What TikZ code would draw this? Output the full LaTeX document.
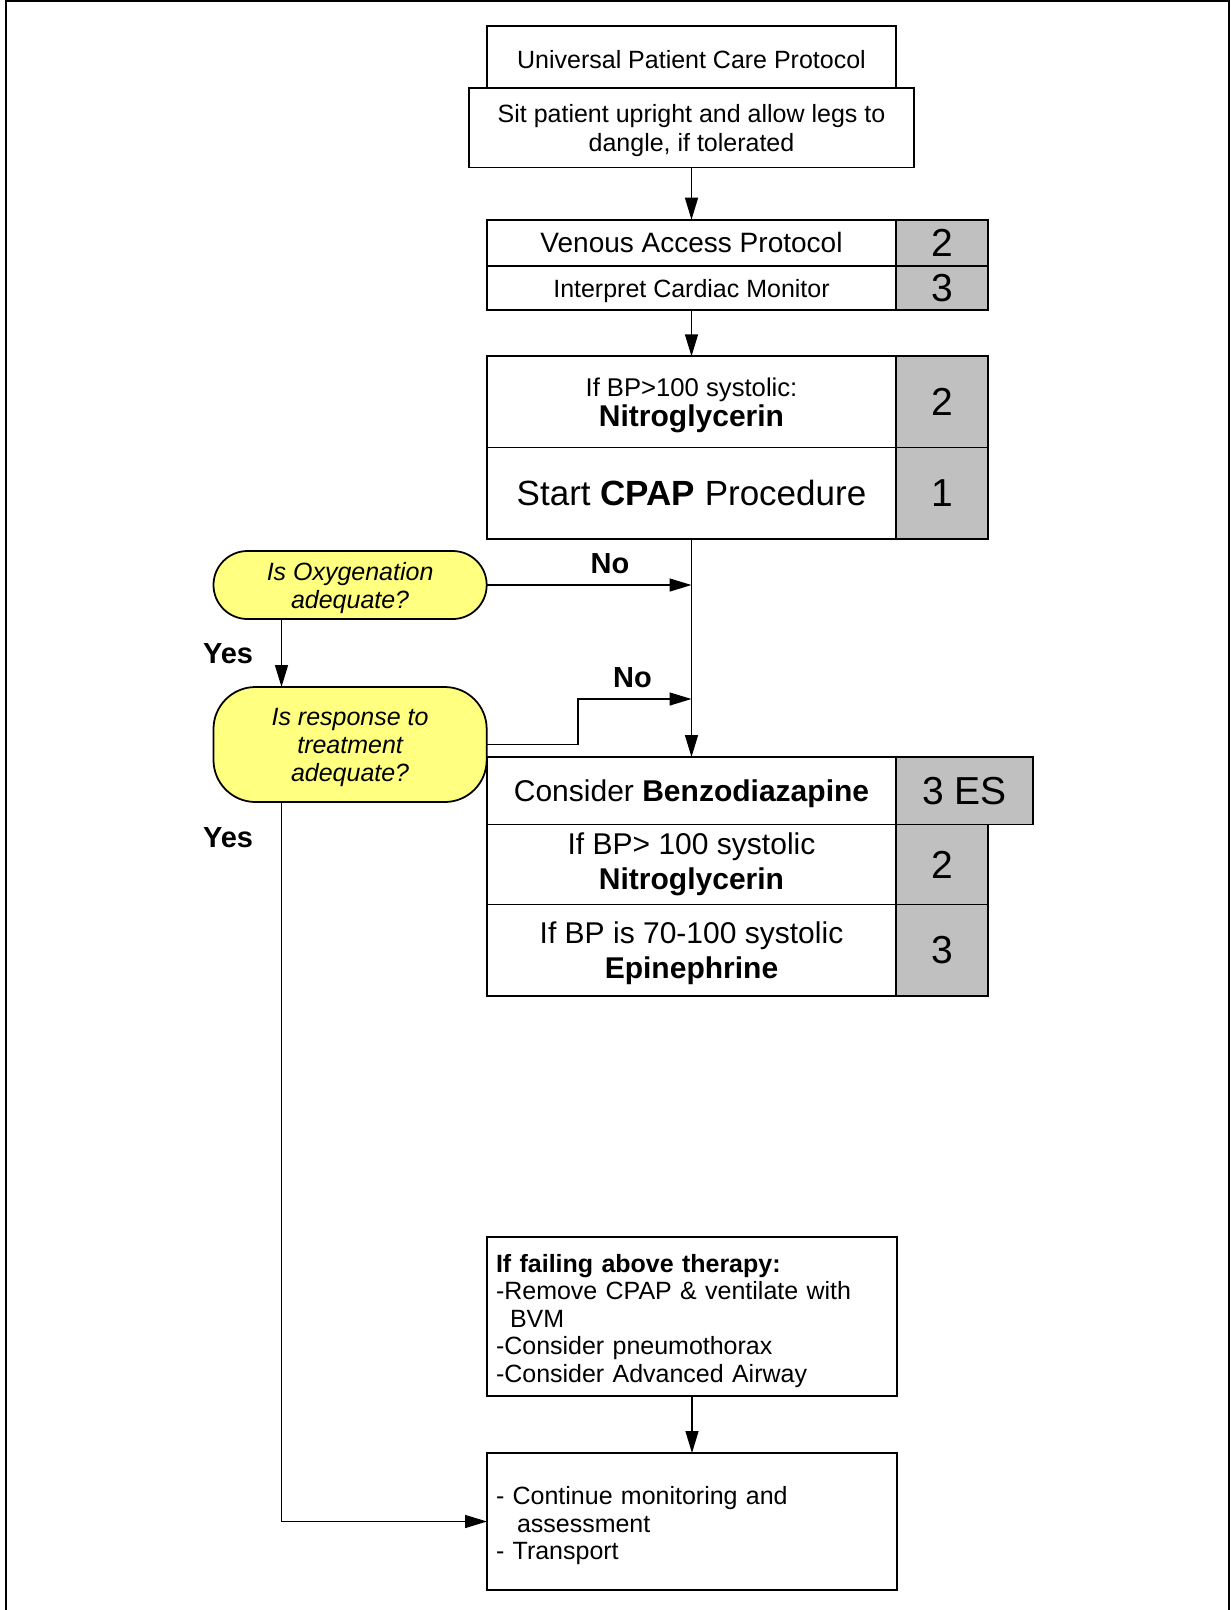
\documentclass[tikz,border=0pt]{standalone}
\usepackage{fontspec}
\setmainfont{Liberation Sans}
\usetikzlibrary{arrows.meta, positioning, calc}

\definecolor{cellgrey}{RGB}{192,192,192}
\definecolor{askyellow}{RGB}{255,255,128}

\begin{document}
\begin{tikzpicture}[>={Triangle[length=2.2mm,width=1.3mm]}, line width=0.5pt,
    every node/.style={inner sep=0pt, outer sep=0pt},
    stepbox/.style={draw, fill=white, align=center, text depth=0pt, minimum width=4.096cm},
    dosebox/.style={draw, fill=cellgrey, minimum width=0.914cm, font=\fontsize{11.1}{12}\selectfont},
    ask/.style={draw, fill=askyellow, align=center, text depth=0pt, minimum width=2.732cm, font=\fontsize{7.11}{7.97}\selectfont\itshape},
    notebox/.style={draw, align=left, text width=3.92cm, inner xsep=0.09cm},
    answer/.style={font=\fontsize{8.25}{9}\selectfont\bfseries},
    flow/.style={->, line width=0.4pt}]

        \useasboundingbox (0,0) rectangle (12.31,-16.10);

        % ==========================================
        % Page frame
        % ==========================================
        \draw[line width=0.7pt] (0.06,-16.10) -- (0.06,-0.0125) -- (12.29,-0.0125) -- (12.29,-16.10);

        % ==========================================
        % TOP: opening steps
        % ==========================================
        \node[stepbox, minimum height=0.676cm, font=\fontsize{7.11}{8.1}\selectfont] (upcp) at (6.915,-0.595) {Universal Patient Care Protocol};
        \node[stepbox, minimum width=4.446cm, minimum height=0.791cm, font=\fontsize{7.11}{8.1}\selectfont] (sit) at (6.915,-1.2785) {Sit patient upright and allow legs to\\dangle, if tolerated};

        % Access and monitor
        \node[stepbox, minimum height=0.462cm, font=\fontsize{7.97}{9}\selectfont] (venous) at (6.915,-2.428) {Venous Access Protocol};
        \node[dosebox, minimum height=0.462cm] (venouslvl) at (9.42,-2.428) {2};
        \node[stepbox, minimum height=0.441cm, font=\fontsize{7.11}{8.1}\selectfont] (interp) at (6.915,-2.8795) {Interpret Cardiac Monitor};
        \node[dosebox, minimum height=0.441cm] (interplvl) at (9.42,-2.8795) {3};

        % Nitro and CPAP
        \node[stepbox, minimum height=0.913cm, font=\fontsize{8.54}{8.6}\selectfont] (bpa) at (6.915,-4.0195) {{\fontsize{7.3}{8.6}\selectfont If BP>100 systolic:}\\\textbf{Nitroglycerin}};
        \node[dosebox, minimum height=0.913cm] (bpalvl) at (9.42,-4.0195) {2};
        \node[stepbox, minimum height=0.914cm, font=\fontsize{9.96}{11}\selectfont] (cpap) at (6.915,-4.933) {Start \textbf{CPAP} Procedure};
        \node[dosebox, minimum height=0.914cm] (cpaplvl) at (9.42,-4.933) {1};

        % ==========================================
        % MIDDLE: questions
        % ==========================================
        \node[ask, minimum height=0.68cm, rounded corners=0.34cm] (oxy) at (3.501,-5.85) {Is Oxygenation\\adequate?};
        \node[ask, minimum height=1.15cm, rounded corners=0.42cm] (resp) at (3.501,-7.445) {Is response to\\treatment\\adequate?};

        % Answers
        \node[answer] (no1) at (6.10,-5.637) {No};
        \node[answer] (no2) at (6.324,-6.776) {No};
        \node[answer] (yes1) at (2.28,-6.54) {Yes};
        \node[answer] (yes2) at (2.28,-8.378) {Yes};

        % Further treatment
        \node[stepbox, minimum height=0.675cm, font=\fontsize{8.54}{9.96}\selectfont] (benzo) at (6.915,-7.9075) {Consider \textbf{Benzodiazapine}};
        \node[dosebox, minimum width=1.367cm, minimum height=0.675cm] (benzolvl) at (9.646,-7.9075) {3 ES};
        \node[stepbox, text depth=1.8pt, minimum height=0.80cm, font=\fontsize{8.54}{9.96}\selectfont] (bpb) at (6.915,-8.645) {If BP> 100 systolic\\\textbf{Nitroglycerin}};
        \node[dosebox, minimum height=0.80cm] (bpblvl) at (9.42,-8.645) {2};
        \node[stepbox, minimum height=0.915cm, font=\fontsize{8.54}{9.96}\selectfont] (epi) at (6.915,-9.5025) {If BP is 70-100 systolic\\\textbf{Epinephrine}};
        \node[dosebox, minimum height=0.915cm] (epilvl) at (9.42,-9.5025) {3};

        % ==========================================
        % BOTTOM: fallback and transport
        % ==========================================
        \node[notebox, minimum height=1.59cm, font=\fontsize{7.11}{7.8}\selectfont] (fail) at (6.92,-13.165) {\rule{0pt}{7.6pt}\textbf{If failing above therapy:}\\-Remove CPAP \& ventilate with\\\hspace*{1.4mm}BVM\\-Consider pneumothorax\\-Consider Advanced Airway};
        \node[notebox, minimum height=1.37cm, font=\fontsize{7.11}{7.88}\selectfont] (cont) at (6.92,-15.215) {\rule{0pt}{7.5pt}- Continue monitoring and\\\hspace*{2.1mm}assessment\\- Transport};

        % Connectors
        \coordinate (jog) at (5.78,-6.99);
        \coordinate (yesx) at (2.815,0);
        \draw[flow] (sit) -- (venous);
        \draw[flow] (interp) -- (bpa);
        \draw[flow] (cpap) -- (benzo);
        \draw[flow] (oxy) -- (oxy -| cpap);
        \draw[flow] (resp.east) -| (jog) -- (jog -| cpap);
        \draw[flow] (oxy.south -| yesx) -- (resp.north -| yesx);
        \draw[flow] (resp.south -| yesx) |- (cont.west);
        \draw[flow] (fail) -- (cont);

\end{tikzpicture}
\end{document}
